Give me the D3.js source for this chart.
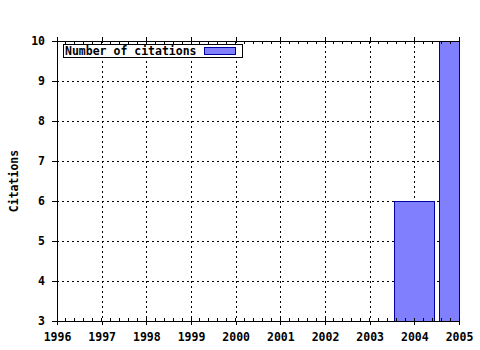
<!DOCTYPE html>
<html>
<head>
<meta charset="utf-8">
<script src="https://cdn.jsdelivr.net/npm/d3@7"></script>
<style>
  body { margin: 0; background: #fff; }
  text { font-family: "DejaVu Sans Mono", monospace; font-weight: bold; font-size: 11px; fill: #000; }
</style>
</head>
<body>
<div id="chart"></div>
<script>
const years = [2004, 2005];
const citations = [6, 10];
const xTicks = [1996, 1997, 1998, 1999, 2000, 2001, 2002, 2003, 2004, 2005];
const yTicks = [3, 4, 5, 6, 7, 8, 9, 10];
const seriesName = 'Number of citations';

const width = 480;
const height = 350;
const margin = { top: 41, right: 21, bottom: 29, left: 57 };

const svg = d3.select('#chart')
  .append('svg')
  .attr('width', width)
  .attr('height', height);

const x = d3.scaleLinear()
  .domain([1996, 2005])
  .range([margin.left, width - margin.right]);

const y = d3.scaleLinear()
  .domain([3, 10])
  .range([height - margin.bottom, margin.top]);

const [x0, x1] = x.range();
const [yBottom, yTop] = y.range();

// dotted grid
const grid = svg.append('g')
  .attr('stroke', '#000')
  .attr('stroke-dasharray', '2,3')
  .attr('shape-rendering', 'crispEdges');

grid.selectAll('.vgrid')
  .data(xTicks.slice(1, -1))
  .join('line')
  .attr('x1', (d) => Math.round(x(d)) + 0.5)
  .attr('x2', (d) => Math.round(x(d)) + 0.5)
  .attr('y1', yTop)
  .attr('y2', yBottom);

grid.selectAll('.hgrid')
  .data(yTicks.slice(1, -1))
  .join('line')
  .attr('y1', (d) => Math.round(y(d)) + 0.5)
  .attr('y2', (d) => Math.round(y(d)) + 0.5)
  .attr('x1', x0)
  .attr('x2', x1);

// bars, clipped to the plot area
const barHalf = 0.45;
svg.selectAll('.bar')
  .data(years.map((yr, i) => ({ yr, v: citations[i] })))
  .join('rect')
  .attr('class', 'bar')
  .attr('x', (d) => Math.round(Math.max(x(d.yr - barHalf), x0)) + 0.5)
  .attr('width', (d) => Math.round(Math.min(x(d.yr + barHalf), x1)) - Math.round(Math.max(x(d.yr - barHalf), x0)))
  .attr('y', (d) => Math.round(y(d.v)) + 0.5)
  .attr('height', (d) => Math.round(y(3)) - Math.round(y(d.v)))
  .attr('fill', '#8080ff')
  .attr('stroke', '#0000a0')
  .attr('shape-rendering', 'crispEdges');

// axes
const bottomAxis = d3.axisBottom(x)
  .tickValues(xTicks)
  .tickFormat(d3.format('d'))
  .tickSize(4)
  .tickSizeOuter(0)
  .tickPadding(8);

const topAxis = d3.axisTop(x)
  .tickValues(xTicks)
  .tickFormat('')
  .tickSize(4)
  .tickSizeOuter(0);

const leftAxis = d3.axisLeft(y)
  .tickValues(yTicks)
  .tickFormat(d3.format('d'))
  .tickSize(5)
  .tickSizeOuter(0)
  .tickPadding(7);

const minorTicks = d3.range(1996, 2005.001, 0.2);

const bx = svg.append('g')
  .attr('transform', `translate(0,${yBottom})`)
  .call(bottomAxis);
bx.selectAll('.minor')
  .data(minorTicks)
  .join('line')
  .attr('class', 'minor')
  .attr('x1', (d) => x(d))
  .attr('x2', (d) => x(d))
  .attr('y1', 0)
  .attr('y2', -3)
  .attr('stroke', '#000');

const tx = svg.append('g')
  .attr('transform', `translate(0,${yTop})`)
  .call(topAxis);
tx.selectAll('.minor')
  .data(minorTicks)
  .join('line')
  .attr('class', 'minor')
  .attr('x1', (d) => x(d))
  .attr('x2', (d) => x(d))
  .attr('y1', 0)
  .attr('y2', 3)
  .attr('stroke', '#000');

svg.append('g')
  .attr('transform', `translate(${x0},0)`)
  .call(leftAxis);

svg.selectAll('.domain, .tick line, .minor').attr('shape-rendering', 'crispEdges');
svg.selectAll('.tick text').style('font-size', '11.5px').style('font-family', '"DejaVu Sans Mono", monospace');

svg.append('text')
  .attr('transform', `translate(18,${(yTop + yBottom) / 2}) rotate(-90)`)
  .attr('text-anchor', 'middle')
  .style('font-size', '11.5px')
  .text('Citations');

// legend
const legend = svg.append('g');
legend.append('rect')
  .attr('x', 63.5)
  .attr('y', 44.5)
  .attr('width', 179)
  .attr('height', 13)
  .attr('fill', '#fff')
  .attr('stroke', '#000')
  .attr('shape-rendering', 'crispEdges');
legend.append('text')
  .attr('x', 65)
  .attr('y', 55)
  .style('font-size', '11.5px')
  .text(seriesName);
legend.append('rect')
  .attr('x', 204.5)
  .attr('y', 47.5)
  .attr('width', 31)
  .attr('height', 7)
  .attr('fill', '#8080ff')
  .attr('stroke', '#0000a0')
  .attr('shape-rendering', 'crispEdges');
</script>
</body>
</html>
